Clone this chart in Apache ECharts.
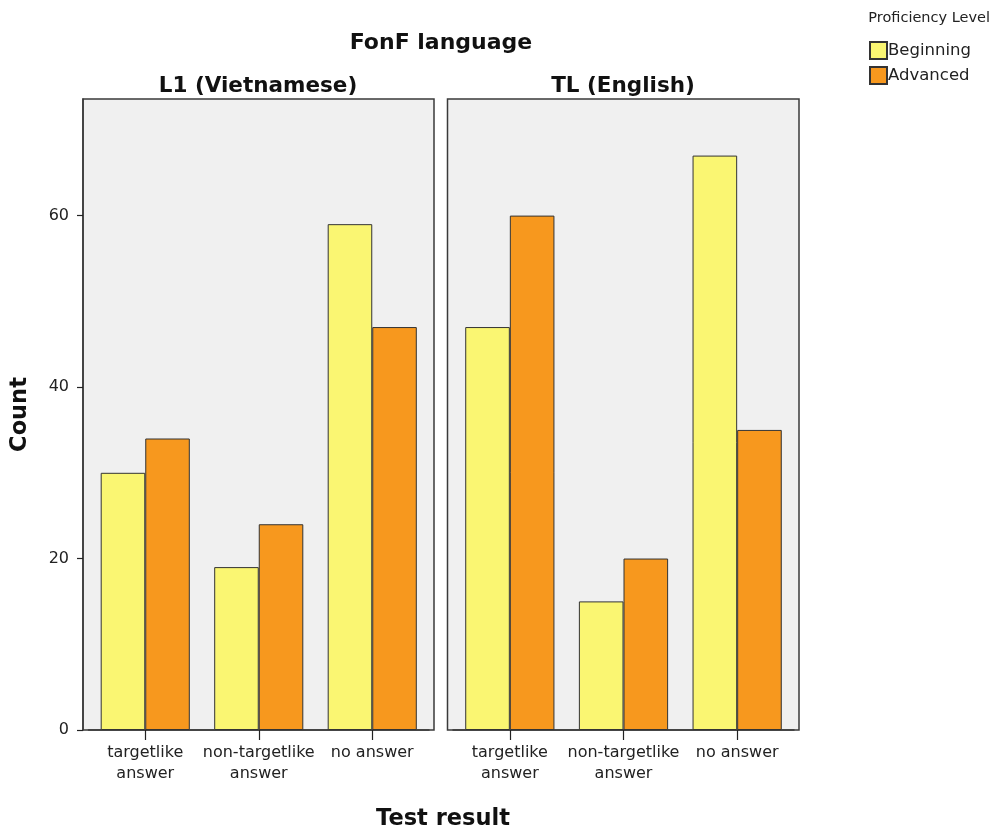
<!DOCTYPE html>
<html>
<head>
<meta charset="utf-8">
<script src="https://cdn.jsdelivr.net/npm/echarts@6/dist/echarts.min.js"></script>
<style>html,body{margin:0;padding:0;background:#fff;}#c{width:993px;height:830px;}</style>
</head>
<body>
<div id="c"></div>
<script>
const categories = ['targetlike\nanswer', 'non-targetlike\nanswer', 'no answer'];
const panels = ['L1 (Vietnamese)', 'TL (English)'];
const seriesNames = ['Beginning', 'Advanced'];
const l1Beginning = [30, 19, 59];
const l1Advanced = [34, 24, 47];
const tlBeginning = [47, 15, 67];
const tlAdvanced = [60, 20, 35];
const yTicks = [0, 20, 40, 60];
const yMax = 73.6;

const colors = { Beginning: '#FAF672', Advanced: '#F7981E' };
const FONT = 'DejaVu Sans';

const chart = echarts.init(document.getElementById('c'), null, { renderer: 'canvas' });

const frameGrid = (left, right) => ({
  left: left, right: right, top: 99, bottom: 100, show: true, containLabel: false, outerBoundsMode: 'none',
  backgroundColor: '#F0F0F0', borderColor: '#3a3a3a', borderWidth: 1.5
});
const dataGrid = (left, width) => ({ left: left, width: width, top: 99, bottom: 100, show: false, containLabel: false, outerBoundsMode: 'none' });

const hiddenX = (gi) => ({ gridIndex: gi, type: 'value', show: false });
const hiddenY = (gi) => ({ gridIndex: gi, type: 'value', min: 0, max: yMax, show: false });

const catAxis = (gi) => ({
  gridIndex: gi, type: 'category', data: categories,
  axisLine: { show: true, lineStyle: { color: '#3a3a3a', width: 1.5 } },
  axisTick: { show: true, alignWithLabel: true, length: 10, lineStyle: { color: '#222', width: 1.2 } },
  axisLabel: { color: '#222', fontFamily: FONT, fontSize: 16, margin: 12, lineHeight: 21, interval: 0 },
  splitLine: { show: false }
});

const barSeries = (name, data, idx) => ({
  name: name, type: 'bar', data: data, xAxisIndex: idx, yAxisIndex: idx,
  barGap: '0%', barCategoryGap: '21.5%',
  itemStyle: { color: colors[name], borderColor: '#333', borderWidth: 1 },
  emphasis: { disabled: true }
});

chart.setOption({
  animation: false,
  backgroundColor: '#fff',
  grid: [frameGrid(83, 993 - 434), frameGrid(447.5, 993 - 799), dataGrid(88.5, 340.5), dataGrid(453, 341)],
  xAxis: [hiddenX(0), hiddenX(1), catAxis(2), catAxis(3)],
  yAxis: [
    {
      gridIndex: 0, type: 'value', min: 0, max: yMax,
      name: 'Count', nameLocation: 'middle', nameGap: 51, nameRotate: 90,
      nameTextStyle: { fontFamily: FONT, fontWeight: 'bold', fontSize: 22.5, color: '#111' },
      axisLine: { show: true, lineStyle: { color: '#3a3a3a', width: 1.5 } },
      axisTick: { show: true, length: 6, lineStyle: { color: '#222', width: 1.2 }, customValues: yTicks },
      axisLabel: { color: '#222', fontFamily: FONT, fontSize: 16, margin: 14, customValues: yTicks },
      splitLine: { show: false }
    },
    hiddenY(1), hiddenY(2), hiddenY(3)
  ],
  legend: {
    data: seriesNames, orient: 'vertical', left: 869, top: 41, padding: 0,
    itemWidth: 17, itemHeight: 17, itemGap: 6, icon: 'rect',
    textStyle: { fontFamily: FONT, fontSize: 16.5, color: '#222', padding: [0, 0, 0, -4] },
    selectedMode: false
  },
  graphic: [
    { type: 'text', x: 990, y: 11, style: { text: 'Proficiency Level', font: '14.5px "DejaVu Sans"', fill: '#222', textAlign: 'right' } },
    { type: 'text', x: 441, y: 43, style: { text: 'FonF language', font: 'bold 22px "DejaVu Sans"', fill: '#111', textAlign: 'center', textVerticalAlign: 'middle' } },
    { type: 'text', x: 258, y: 86, style: { text: panels[0], font: 'bold 21.5px "DejaVu Sans"', fill: '#111', textAlign: 'center', textVerticalAlign: 'middle' } },
    { type: 'text', x: 623, y: 86, style: { text: panels[1], font: 'bold 21.5px "DejaVu Sans"', fill: '#111', textAlign: 'center', textVerticalAlign: 'middle' } },
    { type: 'text', x: 443, y: 819, style: { text: 'Test result', font: 'bold 22.5px "DejaVu Sans"', fill: '#111', textAlign: 'center', textVerticalAlign: 'middle' } }
  ],
  series: [
    barSeries('Beginning', l1Beginning, 2),
    barSeries('Advanced', l1Advanced, 2),
    barSeries('Beginning', tlBeginning, 3),
    barSeries('Advanced', tlAdvanced, 3)
  ]
});
</script>
</body>
</html>
